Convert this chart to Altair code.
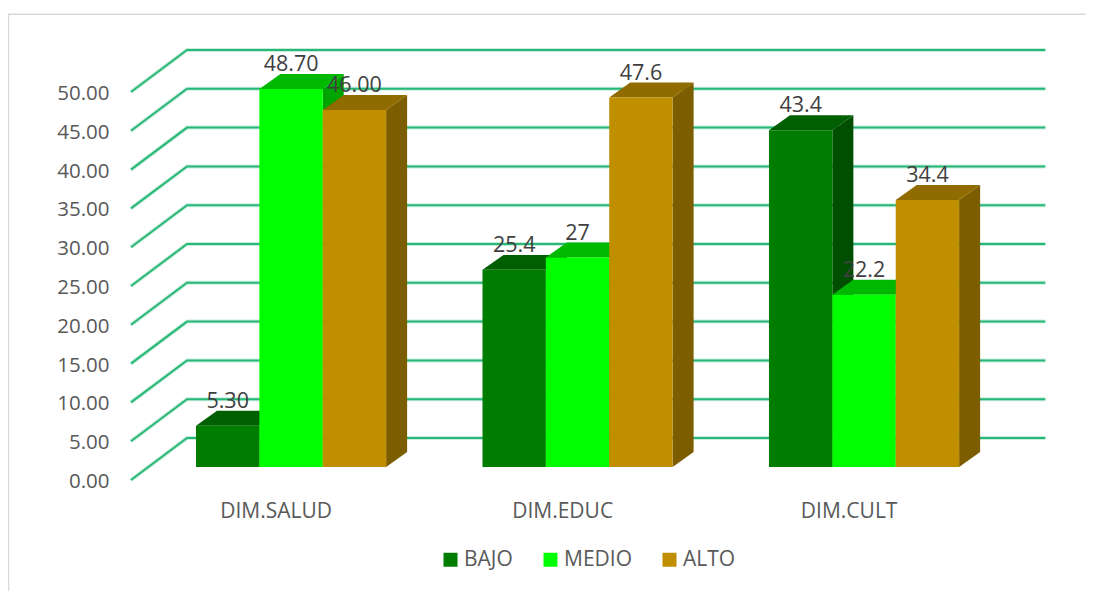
import altair as alt
import pandas as pd

categories = ["DIM.SALUD", "DIM.EDUC", "DIM.CULT"]
series = ["BAJO", "MEDIO", "ALTO"]
bajo = [5.30, 25.4, 43.4]
medio = [48.70, 27, 22.2]
alto = [46.00, 47.6, 34.4]
bajo_labels = ["5.30", "25.4", "43.4"]
medio_labels = ["48.70", "27", "22.2"]
alto_labels = ["46.00", "47.6", "34.4"]
y_ticks = [0, 5, 10, 15, 20, 25, 30, 35, 40, 45, 50]

front_colors = ["#007c00", "#00ff00", "#bf8f00"]
top_colors = ["#005f00", "#00b800", "#8f6b00"]
side_colors = ["#004f00", "#00a400", "#7c5d00"]

# Geometry in data units (category units on x, value units on y)
BAR_W = 0.2212
DEPTH_X = 0.0733
DEPTH_Y = 1.93
BASE_Y = 1.68
LABEL_UP = 3.05
WALL_X0 = -0.2270
WALL_X1 = -0.0314
WALL_X2 = 2.9646
WALL_Y = 5.41
X_DOM = [-0.6562, 3.1065]
Y_DOM = [-14.30, 60.82]

x_scale = alt.Scale(domain=X_DOM, nice=False, zero=False)
y_scale = alt.Scale(domain=Y_DOM, nice=False, zero=False)

values = [bajo, medio, alto]
labels = [bajo_labels, medio_labels, alto_labels]

grid_rows = []
for v in y_ticks:
    grid_rows += [
        {"line": v, "i": 0, "x": WALL_X0, "y": v},
        {"line": v, "i": 1, "x": WALL_X1, "y": v + WALL_Y},
        {"line": v, "i": 2, "x": WALL_X2, "y": v + WALL_Y},
    ]
grid_df = pd.DataFrame(grid_rows)

label_vals = [i + 0.278 for i in range(3)]
cat_js = "[" + ",".join(f"'{c}'" for c in categories) + "]"
x_axis = alt.Axis(
    values=label_vals,
    labelExpr=f"{cat_js}[round(datum.value - 0.278)]",
    offset=-80, labelBaseline="middle", labelPadding=0, labelFontSize=21,
    labelColor="#595959", labelFont="Open Sans", domain=False, ticks=False,
    grid=False, title=None, labelOverlap=False, labelFlush=False, labelBound=False,
)
y_axis = alt.Axis(
    values=y_ticks, format=".2f", offset=-101, labelPadding=0, labelFontSize=20.5,
    labelOffset=1.5,
    labelColor="#595959", labelFont="Open Sans", domain=False, ticks=False,
    grid=False, title=None, labelOverlap=False, labelFlush=False, labelBound=False,
)

X = alt.X("x:Q", scale=x_scale, axis=x_axis)
Y = alt.Y("y:Q", scale=y_scale, axis=y_axis)

layers = []

# chart frame
frame_top = alt.Chart(pd.DataFrame({"x": [X_DOM[0]], "x2": [X_DOM[1]], "y": [60.0]})).mark_rule(
    color="#d9d9d9", strokeWidth=1.5
).encode(X, x2="x2:Q", y=Y)
frame_left = alt.Chart(pd.DataFrame({"x": [-0.6545], "y": [Y_DOM[0]], "y2": [60.0]})).mark_rule(
    color="#d9d9d9", strokeWidth=1.5
).encode(X, y=Y, y2="y2:Q")

# gridlines, with a soft halo
halo = alt.Chart(grid_df).mark_line(color="#27b877", strokeWidth=4, opacity=0.25, interpolate="linear").encode(
    X, Y, detail="line:N", order="i:Q"
)
core = alt.Chart(grid_df).mark_line(color="#27b877", strokeWidth=2, interpolate="linear").encode(
    X, Y, detail="line:N", order="i:Q"
)
layers += [frame_top, frame_left, halo, core]

# bars, series by series, so later bars cover earlier ones
for s, name in enumerate(series):
    side_rows, top_rows, front_rows = [], [], []
    for g in range(len(categories)):
        v = values[s][g]
        x0 = g + s * BAR_W
        x1 = x0 + BAR_W
        b = BASE_Y
        side_rows += [
            {"bar": g, "x": x1, "y": b, "y2": b + v},
            {"bar": g, "x": x1 + DEPTH_X, "y": b + DEPTH_Y, "y2": b + v + DEPTH_Y},
        ]
        top_rows += [
            {"bar": g, "x": x0, "y": b + v, "y2": b + v},
            {"bar": g, "x": x0 + DEPTH_X, "y": b + v, "y2": b + v + DEPTH_Y},
            {"bar": g, "x": x1, "y": b + v, "y2": b + v + DEPTH_Y},
            {"bar": g, "x": x1 + DEPTH_X, "y": b + v + DEPTH_Y, "y2": b + v + DEPTH_Y},
        ]
        front_rows.append({"x": x0, "x2": x1, "y": b, "y2": b + v, "series": name})
    side = alt.Chart(pd.DataFrame(side_rows)).mark_area(
        color=side_colors[s], orient="vertical", interpolate="linear"
    ).encode(X, Y, y2="y2:Q", detail="bar:N")
    top = alt.Chart(pd.DataFrame(top_rows)).mark_area(
        color=top_colors[s], orient="vertical", interpolate="linear"
    ).encode(X, Y, y2="y2:Q", detail="bar:N")
    front = alt.Chart(pd.DataFrame(front_rows)).mark_rect().encode(
        X, x2="x2:Q", y=Y, y2="y2:Q",
        color=alt.Color(
            "series:N",
            scale=alt.Scale(domain=series, range=front_colors),
            legend=alt.Legend(
                title=None, orient="none", legendX=432, legendY=541, direction="horizontal",
                symbolType="square", symbolSize=196, symbolStrokeWidth=0, labelFontSize=21,
                labelFont="Open Sans", labelColor="#595959", columnPadding=27,
                labelOffset=3, columns=3,
            ),
        ),
    )
    layers += [side, top, front]

# data labels
text_rows = []
for s in range(3):
    for g in range(3):
        text_rows.append({
            "x": g + s * BAR_W + BAR_W / 2,
            "y": BASE_Y + values[s][g] + LABEL_UP,
            "label": labels[s][g],
        })
text = alt.Chart(pd.DataFrame(text_rows)).mark_text(
    fontSize=21.5, font="Open Sans", color="#404040", baseline="middle", align="center"
).encode(X, Y, text="label:N")
layers.append(text)

chart = alt.layer(*layers).properties(
    width=1078, height=583, padding=0,
    autosize=alt.AutoSizeParams(type="none"),
).configure_view(stroke=None)

chart.save("out.html", embed_options={"renderer": "svg", "actions": False})
